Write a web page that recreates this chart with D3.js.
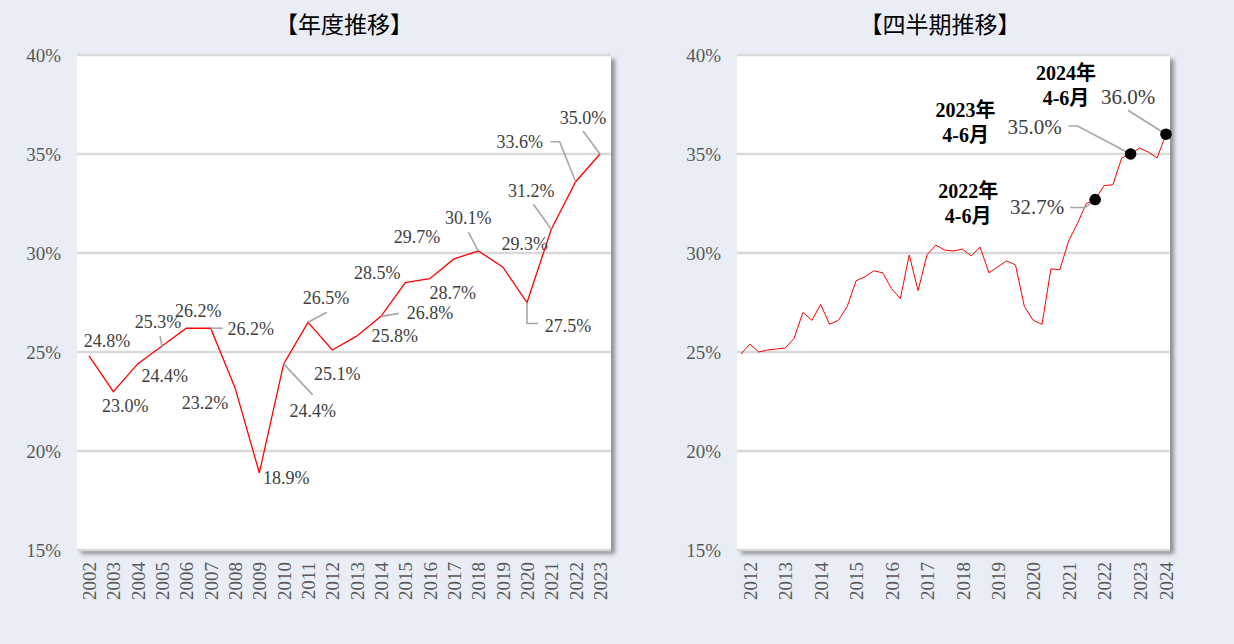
<!DOCTYPE html>
<html>
<head>
<meta charset="utf-8">
<script src="https://cdn.jsdelivr.net/npm/d3@7"></script>
<style>
  body { margin: 0; background: #e9eef6; }
</style>
</head>
<body>
<div id="wrapper"></div>
<script>
// yearly data
const years = ["2002","2003","2004","2005","2006","2007","2008","2009","2010","2011","2012",
  "2013","2014","2015","2016","2017","2018","2019","2020","2021","2022","2023"];
const yearlyRate = [24.8,23.0,24.4,25.3,26.2,26.2,23.2,18.9,24.4,26.5,25.1,
  25.8,26.8,28.5,28.7,29.7,30.1,29.3,27.5,31.2,33.6,35.0];

// quarterly data
const quarters = [
  "2012年4-6月","2012年7-9月","2012年10-12月",
  "2013年1-3月","2013年4-6月","2013年7-9月","2013年10-12月",
  "2014年1-3月","2014年4-6月","2014年7-9月","2014年10-12月",
  "2015年1-3月","2015年4-6月","2015年7-9月","2015年10-12月",
  "2016年1-3月","2016年4-6月","2016年7-9月","2016年10-12月",
  "2017年1-3月","2017年4-6月","2017年7-9月","2017年10-12月",
  "2018年1-3月","2018年4-6月","2018年7-9月","2018年10-12月",
  "2019年1-3月","2019年4-6月","2019年7-9月","2019年10-12月",
  "2020年1-3月","2020年4-6月","2020年7-9月","2020年10-12月",
  "2021年1-3月","2021年4-6月","2021年7-9月","2021年10-12月",
  "2022年1-3月","2022年4-6月","2022年7-9月","2022年10-12月",
  "2023年1-3月","2023年4-6月","2023年7-9月","2023年10-12月",
  "2024年1-3月","2024年4-6月"];
const quarterlyRate = [24.9,25.4,25.0,
  25.1,25.15,25.2,25.7,
  27.0,26.6,27.4,26.4,
  26.6,27.3,28.6,28.8,
  29.1,29.0,28.2,27.7,
  29.9,28.1,29.9,30.4,
  30.15,30.1,30.2,29.85,
  30.3,29.0,29.3,29.6,
  29.4,27.3,26.6,26.4,
  29.2,29.15,30.6,31.5,
  32.5,32.7,33.4,33.45,
  34.8,35.0,35.3,35.1,
  34.8,36.0];
const quarterTickCats = ["2012年7-9月","2013年7-9月","2014年7-9月","2015年7-9月","2016年7-9月",
  "2017年7-9月","2018年7-9月","2019年7-9月","2020年7-9月","2021年7-9月","2022年7-9月",
  "2023年7-9月","2024年4-6月"];
const highlightQuarters = ["2022年4-6月","2023年4-6月","2024年4-6月"];

const yTicks = [15,20,25,30,35,40];

// label placement for yearly chart (offsets from point; leader = path points)
const yearlyLabelLayout = [
  {dx:18,dy:-15},{dx:12,dy:14},{dx:27,dy:12},
  {dx:-4,dy:-24,leader:[[0,0],[-2,-10]]},
  {dx:12,dy:-17},
  {dx:40,dy:1,leader:[[0,0],[12,0]]},
  {dx:-30,dy:15},{dx:27,dy:5},
  {dx:29,dy:47,leader:[[0,0],[29,31]]},
  {dx:18,dy:-24,leader:[[0,0],[19,-10]]},
  {dx:5,dy:24},{dx:38,dy:0},
  {dx:49,dy:-3,leader:[[0,0],[18,-3]]},
  {dx:-28,dy:-10},{dx:23,dy:14},{dx:-37,dy:-22},
  {dx:-10,dy:-33,leader:[[0,0],[-10,-19]]},
  {dx:22,dy:-23},
  {dx:41,dy:23,leader:[[0,0],[0,21],[11,21]]},
  {dx:-20,dy:-38,leader:[[0,0],[-18,-25]]},
  {dx:-56,dy:-40,leader:[[0,0],[-16,-40],[-25,-40]]},
  {dx:-17,dy:-36,leader:[[0,0],[-17,-23]]}
];
const quarterLabelLayout = [
  {dx:-58,dy:7,leader:[[0,0],[-10,8],[-25,8]],tdx:-127,tdy:-9},
  {dx:-96,dy:-27,leader:[[0,0],[-53,-28],[-62,-28]],tdx:-165,tdy:-44},
  {dx:-38,dy:-37,leader:[[0,0],[-38,-24]],tdx:-100,tdy:-61}
];

const W = 1234, H = 644;
const serif = "'Liberation Serif','Times New Roman','Noto Sans CJK JP',serif";
const sans = "'Noto Sans CJK JP','Noto Sans',sans-serif";

const svg = d3.select("#wrapper").append("svg")
  .attr("width", W).attr("height", H);

svg.append("rect").attr("width", W).attr("height", H).attr("fill", "#e9eef6");

const defs = svg.append("defs");
defs.append("filter").attr("id", "shadow")
  .attr("x", "-5%").attr("y", "-5%").attr("width", "115%").attr("height", "115%")
  .append("feDropShadow")
  .attr("dx", 4).attr("dy", 4).attr("stdDeviation", 2)
  .attr("flood-color", "#000").attr("flood-opacity", 0.4);

const scaleY = d3.scaleLinear().domain([15, 40]).range([550, 55]);

function drawPanel(opt) {
  const g = svg.append("g");
  g.append("rect")
    .attr("x", opt.x0).attr("y", scaleY(40))
    .attr("width", opt.x1 - opt.x0).attr("height", scaleY(15) - scaleY(40))
    .attr("fill", "#fff")
    .attr("filter", "url(#shadow)");

  g.append("g").selectAll("line")
    .data(yTicks)
    .join("line")
    .attr("x1", opt.x0).attr("x2", opt.x1)
    .attr("y1", d => scaleY(d)).attr("y2", d => scaleY(d))
    .attr("stroke", "#d9d9d9").attr("stroke-width", 2.5);

  const yAxis = g.append("g")
    .attr("transform", `translate(${opt.x0},0)`)
    .call(d3.axisLeft(scaleY).tickValues(yTicks).tickSize(0).tickPadding(16).tickFormat(d => d + "%"));
  yAxis.select(".domain").remove();
  yAxis.selectAll("text")
    .attr("font-family", serif).attr("font-size", 19).attr("fill", "#595959");

  const xAxis = g.append("g")
    .attr("transform", "translate(0,562)")
    .call(d3.axisBottom(opt.scaleX).tickValues(opt.tickValues).tickSize(0).tickFormat(opt.tickFormat));
  xAxis.select(".domain").remove();
  xAxis.selectAll("text")
    .attr("transform", "rotate(-90)")
    .attr("text-anchor", "end")
    .attr("x", 0).attr("y", 0).attr("dy", "0.35em")
    .attr("font-family", serif).attr("font-size", 19).attr("fill", "#595959");

  g.append("text")
    .attr("x", opt.titleX).attr("y", 27)
    .attr("text-anchor", "middle").attr("dominant-baseline", "middle")
    .attr("font-family", sans).attr("font-size", 23).attr("font-weight", 400).attr("fill", "#000")
    .text(opt.title);
  return g;
}

// ---- yearly panel
const scaleX1 = d3.scalePoint().domain(years).range([89, 600]);
const g1 = drawPanel({x0: 77, x1: 611, scaleX: scaleX1, tickValues: years,
  tickFormat: d => d, title: "【年度推移】", titleX: 344});

const line1 = d3.line().x((d, i) => scaleX1(years[i])).y(d => scaleY(d));
g1.append("path").datum(yearlyRate)
  .attr("d", line1).attr("fill", "none")
  .attr("stroke", "#ff0000").attr("stroke-width", 1.3);

const leaderLine = d3.line();
yearlyRate.forEach((v, i) => {
  const px = scaleX1(years[i]), py = scaleY(v);
  const lay = yearlyLabelLayout[i];
  if (lay.leader) {
    g1.append("path")
      .attr("d", leaderLine(lay.leader.map(p => [px + p[0], py + p[1]])))
      .attr("fill", "none").attr("stroke", "#a6a6a6").attr("stroke-width", 1.6);
  }
  g1.append("text")
    .attr("x", px + lay.dx).attr("y", py + lay.dy)
    .attr("text-anchor", "middle").attr("dominant-baseline", "central")
    .attr("font-family", serif).attr("font-size", 18).attr("fill", "#404040")
    .text(v.toFixed(1) + "%");
});

// ---- quarterly panel
const scaleX2 = d3.scalePoint().domain(quarters).range([741, 1166]);
const g2 = drawPanel({x0: 737, x1: 1170, scaleX: scaleX2, tickValues: quarterTickCats,
  tickFormat: d => d.slice(0, 4), title: "【四半期推移】", titleX: 940});

const line2 = d3.line().x((d, i) => scaleX2(quarters[i])).y(d => scaleY(d));
g2.append("path").datum(quarterlyRate)
  .attr("d", line2).attr("fill", "none")
  .attr("stroke", "#ff0000").attr("stroke-width", 1);

highlightQuarters.forEach((q, k) => {
  const v = quarterlyRate[quarters.indexOf(q)];
  const px = scaleX2(q), py = scaleY(v);
  const lay = quarterLabelLayout[k];
  g2.append("path")
    .attr("d", leaderLine(lay.leader.map(p => [px + p[0], py + p[1]])))
    .attr("fill", "none").attr("stroke", "#a6a6a6").attr("stroke-width", 1.6);
  g2.append("circle").attr("cx", px).attr("cy", py).attr("r", 5.8).attr("fill", "#000");
  g2.append("text")
    .attr("x", px + lay.dx).attr("y", py + lay.dy)
    .attr("text-anchor", "middle").attr("dominant-baseline", "central")
    .attr("font-family", serif).attr("font-size", 21).attr("fill", "#404040")
    .text(v.toFixed(1) + "%");
  const parts = [q.slice(0, 5), q.slice(5)];
  g2.append("text")
    .attr("x", px + lay.tdx).attr("y", py + lay.tdy)
    .attr("text-anchor", "middle").attr("dominant-baseline", "central")
    .attr("font-family", serif).attr("font-size", 20).attr("font-weight", "bold").attr("fill", "#000")
    .selectAll("tspan").data(parts).join("tspan")
    .attr("x", px + lay.tdx).attr("dy", (d, j) => j ? 25 : 0)
    .text(d => d);
});
</script>
</body>
</html>
